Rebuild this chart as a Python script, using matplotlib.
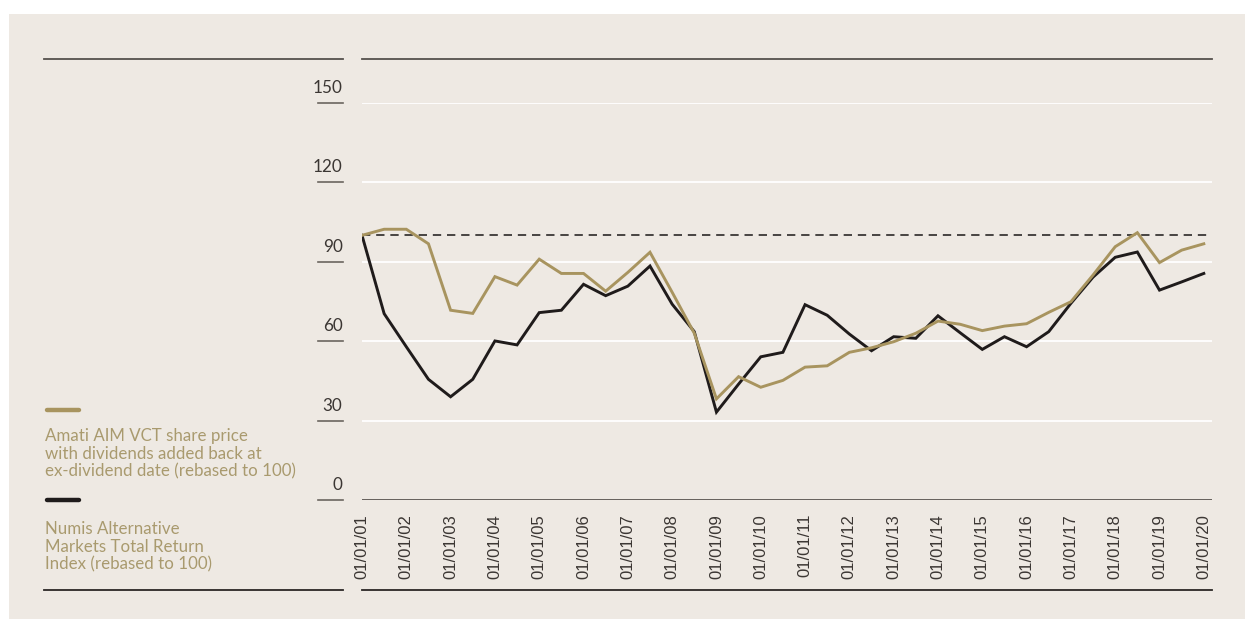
import matplotlib.pyplot as plt
from matplotlib.lines import Line2D
from matplotlib.patches import Rectangle
import matplotlib.transforms as mtransforms

# half-yearly observations, 01/01/01 .. 01/01/20
date_labels = ["01/01/%02d" % y for y in range(1, 21)]

amati = [100, 102.3, 102.3, 96.8, 71.7, 70.5, 84.4, 81.2, 91.0, 85.6,
         85.6, 78.9, 86.0, 93.6, 78.5, 63.0, 38.2, 46.6, 42.6, 45.2,
         50.2, 50.7, 55.8, 57.5, 59.8, 63.0, 67.6, 66.4, 64.0, 65.7,
         66.6, 70.9, 74.9, 85.0, 95.7, 101.0, 89.7, 94.4, 96.8]

numis = [100, 70.4, 57.9, 45.6, 39.0, 45.6, 60.1, 58.6, 70.8, 71.7,
         81.5, 77.2, 80.8, 88.4, 74.0, 63.6, 33.2, 43.8, 54.1, 55.8,
         73.8, 69.8, 62.7, 56.4, 61.7, 61.1, 69.6, 63.2, 56.9, 61.7,
         57.9, 63.6, 74.3, 84.2, 91.7, 93.7, 79.3, 82.4, 85.6]

yticks = [0, 30, 60, 90, 120, 150]

amati_label = "Amati AIM VCT share price\nwith dividends added back at\nex-dividend date (rebased to 100)"
numis_label = "Numis Alternative\nMarkets Total Return\nIndex (rebased to 100)"

GOLD = "#a8945f"
BLACK = "#1f1b1b"
BG = "#eee9e3"
TXT = "#3b3633"

W, H = 1245, 619


def fx(px):
    return px / W


def fy(py):
    return (H - py) / H


fig = plt.figure(figsize=(W / 100, H / 100), dpi=100, facecolor="white")
fig.patches.append(Rectangle((fx(9), 0), 1 - fx(9), fy(14), transform=fig.transFigure,
                             facecolor=BG, edgecolor="none", zorder=-10))

ax = fig.add_axes([fx(362), fy(500), fx(1212) - fx(362), fy(103) - fy(500)])
ax.set_facecolor("none")
for s in ax.spines.values():
    s.set_visible(False)

x = list(range(len(amati)))
ax.set_xlim(0, 38.37)
ax.set_ylim(0, 150)

# grid, zero line, reference at 100
for v in yticks[1:]:
    ax.axhline(v, color="white", lw=1.3, zorder=1)
ax.axhline(0, color="#5a5551", lw=1.3, zorder=2)
ax.axhline(100, color="#2b2827", lw=1.2, ls=(0, (5, 3.5)), zorder=2)

ax.plot(x, numis, color=BLACK, lw=2.1, zorder=3, solid_joinstyle="miter")
ax.plot(x, amati, color=GOLD, lw=2.1, zorder=4, solid_joinstyle="miter")

# x ticks
ax.set_xticks(x[::2])
ax.set_xticklabels(date_labels, rotation=90, fontsize=12, family="Liberation Sans",
                   color=TXT, va="top", ha="center")
ax.tick_params(axis="x", length=0, pad=10)

# y ticks: labels sit above their little dash
ax.set_yticks(yticks)
ax.set_yticklabels([str(v) for v in yticks], fontsize=12.3, family="Lato", color=TXT)
ax.tick_params(axis="y", length=0, pad=14)
off = mtransforms.ScaledTranslation(0, 9 / 72 * 0.8, fig.dpi_scale_trans)
for lbl in ax.get_yticklabels():
    lbl.set_va("baseline")
    lbl.set_transform(lbl.get_transform() + off)
trans = mtransforms.blended_transform_factory(ax.transAxes, ax.transData)
for v in yticks:
    ax.plot([-44 / 850, -19 / 850], [v, v], color="#6a6560", lw=1.2,
            transform=trans, clip_on=False)

# frame rules
for y, c in [(59, "#55514d"), (590, "#2a2725")]:
    fig.add_artist(Line2D([fx(44), fx(343)], [fy(y), fy(y)], color=c, lw=1.3))
    fig.add_artist(Line2D([fx(362), fx(1212)], [fy(y), fy(y)], color=c, lw=1.3))

# legend
fig.add_artist(Line2D([fx(47), fx(79)], [fy(410), fy(410)], color=GOLD, lw=3.2,
                      solid_capstyle="round"))
fig.add_artist(Line2D([fx(47), fx(79)], [fy(500), fy(500)], color=BLACK, lw=3.2,
                      solid_capstyle="round"))
# multi-line baseline alignment uses the last line
fig.text(fx(45), fy(476), amati_label, fontsize=12.2, family="Lato", color="#a99a6e",
         va="baseline", ha="left", linespacing=1.1)
fig.text(fx(45), fy(569), numis_label, fontsize=12.2, family="Lato", color="#a99a6e",
         va="baseline", ha="left", linespacing=1.1)

fig.savefig("out.png", dpi=100, facecolor="white")
